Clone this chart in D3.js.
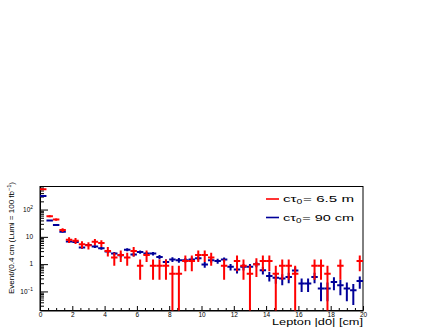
<!DOCTYPE html>
<html>
<head>
<meta charset="utf-8">
<script src="https://cdn.jsdelivr.net/npm/d3@7"></script>
<style>
  body { margin: 0; background: #fff; }
  svg { display: block; }
  text { font-family: "Liberation Sans", Arial, sans-serif; fill: #000; }
</style>
</head>
<body>
<div id="chart-area"></div>
<script>
// bins of 0.4 cm in lepton |d0|
const binCenters = [0.2, 0.6, 1.0, 1.4, 1.8, 2.2, 2.6, 3.0, 3.4, 3.8,
    4.2, 4.6, 5.0, 5.4, 5.8, 6.2, 6.6, 7.0, 7.4, 7.8,
    8.2, 8.6, 9.0, 9.4, 9.8, 10.2, 10.6, 11.0, 11.4, 11.8,
    12.2, 12.6, 13.0, 13.4, 13.8, 14.2, 14.6, 15.0, 15.4, 15.8,
    16.2, 16.6, 17.0, 17.4, 17.8, 18.2, 18.6, 19.0, 19.4, 19.8]
const binHalf = 0.2

// ctau = 6.5 m (red)
const redVals = [550, 57, 43, 18, 7.8, 7.2, 5.3, 4.9, 6.6, 5.9,
    3.05, 1.74, 2.18, 1.74, 3.05, 0.87, 2.18, 0.87, 0.87, 0.87,
    0.44, 0.44, 1.31, 1.31, 2.18, 2.18, 1.74, 0, 0.87, 0,
    1.31, 0.87, 0.44, 1.0, 1.31, 1.31, 0.44, 0.87, 0.87, 0.44,
    0, 0, 0.87, 0.87, 0.44, 0, 0.87, 0, 0, 1.31]
const redErr = [15.6, 5.0, 4.35, 2.8, 1.85, 1.78, 1.53, 1.47, 1.7, 1.61,
    1.16, 0.87, 0.98, 0.87, 1.16, 0.6, 0.98, 0.6, 0.6, 0.6,
    0.44, 0.44, 0.76, 0.76, 0.98, 0.98, 0.87, 0, 0.6, 0,
    0.76, 0.6, 0.44, 0.66, 0.76, 0.76, 0.44, 0.6, 0.6, 0.44,
    0, 0, 0.6, 0.6, 0.44, 0, 0.6, 0, 0, 0.76]

// ctau = 90 cm (blue)
const blueVals = [316, 40, 27, 15.5, 6.8, 6.5, 4.1, 5.0, 4.4, 3.8,
    2.9, 2.43, 2.1, 3.4, 2.24, 2.78, 2.43, 2.43, 1.84, 1.21,
    1.48, 1.4, 1.4, 1.48, 1.65, 0.97, 1.4, 1.3, 1.47, 0.8,
    0.64, 0.8, 0.8, 1.0, 0.6, 0.37, 0.32, 0.3, 0.34, 0.59,
    0.195, 0.195, 0.34, 0.128, 0.128, 0.22, 0.17, 0.128, 0.11, 0.24]
const blueErr = [4.2, 1.48, 1.22, 0.92, 0.61, 0.6, 0.47, 0.52, 0.49, 0.46,
    0.4, 0.37, 0.34, 0.43, 0.35, 0.39, 0.37, 0.37, 0.32, 0.26,
    0.29, 0.28, 0.28, 0.29, 0.3, 0.23, 0.28, 0.27, 0.28, 0.21,
    0.19, 0.21, 0.21, 0.23, 0.18, 0.14, 0.13, 0.13, 0.14, 0.18,
    0.1, 0.1, 0.14, 0.084, 0.084, 0.11, 0.097, 0.084, 0.078, 0.115]

const xTicks = [0, 2, 4, 6, 8, 10, 12, 14, 16, 18, 20]
const yTicks = [0.1, 1, 10, 100]
const yTickLabels = [["10", "\u22121"], ["1", ""], ["10", ""], ["10", "2"]]

const WIDTH = 436
const HEIGHT = 327
const FRAME = { LEFT: 40, RIGHT: 363, TOP: 186.5, BOTTOM: 310.5 }

const svg = d3.select("#chart-area")
    .append("svg")
    .attr("width", WIDTH)
    .attr("height", HEIGHT)

const x = d3.scaleLinear()
    .domain([0, 20])
    .range([FRAME.LEFT, FRAME.RIGHT])

const y = d3.scaleLog()
    .domain([0.02, 700])
    .range([FRAME.BOTTOM, FRAME.TOP])

svg.append("clipPath").attr("id", "frame-clip")
    .append("rect")
    .attr("x", FRAME.LEFT)
    .attr("y", FRAME.TOP)
    .attr("width", FRAME.RIGHT - FRAME.LEFT)
    .attr("height", FRAME.BOTTOM - FRAME.TOP)

// x axis, ticks pointing into the frame
const xAxis = svg.append("g")
    .attr("transform", `translate(0, ${FRAME.BOTTOM})`)
    .call(d3.axisBottom(x).tickValues(xTicks).tickSize(-4.5).tickPadding(1.4).tickSizeOuter(0))
xAxis.select(".domain").attr("stroke", "#000")
xAxis.selectAll("text").style("font-size", "6.5px")

svg.append("g")
    .attr("transform", `translate(0, ${FRAME.BOTTOM})`)
    .call(d3.axisBottom(x).tickValues(x.ticks(40).filter(v => v % 2 !== 0)).tickSize(-2.5).tickFormat(""))
    .call(g => g.select(".domain").remove())

// y axis (log)
const yAxis = svg.append("g")
    .attr("transform", `translate(${FRAME.LEFT}, 0)`)
    .call(d3.axisLeft(y).tickValues(yTicks).tickSize(-8).tickFormat("").tickSizeOuter(0))
yAxis.select(".domain").attr("stroke", "#000")

const yMinor = y.ticks().filter(v => yTicks.indexOf(v) < 0 && v > 0.02)
svg.append("g")
    .attr("transform", `translate(${FRAME.LEFT}, 0)`)
    .call(d3.axisLeft(y).tickValues(yMinor).tickSize(-4).tickFormat(""))
    .call(g => g.select(".domain").remove())

const yLab = svg.append("g")
    .selectAll("text")
    .data(yTicks)
    .enter()
    .append("text")
    .attr("x", 33)
    .attr("y", d => y(d) + 2.3)
    .attr("text-anchor", "end")
    .style("font-size", "6.5px")
yLab.append("tspan").text((d, i) => yTickLabels[i][0])
yLab.append("tspan")
    .attr("dy", -2.7)
    .style("font-size", "4.8px")
    .text((d, i) => yTickLabels[i][1])

// frame
svg.append("rect")
    .attr("x", FRAME.LEFT)
    .attr("y", FRAME.TOP)
    .attr("width", FRAME.RIGHT - FRAME.LEFT)
    .attr("height", FRAME.BOTTOM - FRAME.TOP)
    .attr("fill", "none")
    .attr("stroke", "#000")
    .attr("stroke-width", 1)

// axis titles
svg.append("text")
    .attr("x", FRAME.RIGHT)
    .attr("y", 325)
    .attr("text-anchor", "end")
    .attr("textLength", 91)
    .attr("lengthAdjust", "spacingAndGlyphs")
    .style("font-size", "8.5px")
    .text("Lepton |d0| [cm]")

const yTitle = svg.append("text")
    .attr("transform", "translate(13.5, 182) rotate(-90)")
    .attr("text-anchor", "end")
    .attr("textLength", 112)
    .attr("lengthAdjust", "spacingAndGlyphs")
    .style("font-size", "8px")
yTitle.append("tspan").text("Event/(0.4 cm (Lumi = 100 fb")
yTitle.append("tspan").attr("dy", -2.7).style("font-size", "5.5px").text("\u22121")
yTitle.append("tspan").attr("dy", 2.7).text(")")

// histograms with error bars
function drawSeries(vals, errs, color) {
    const pts = binCenters.map((c, i) => ({ c: c, v: vals[i], e: errs[i] }))
        .filter(d => d.v > 0)
    const g = svg.append("g")
        .attr("clip-path", "url(#frame-clip)")
        .attr("stroke", color)
        .attr("stroke-width", 2)
    g.selectAll("line.h").data(pts).enter()
        .append("line").attr("class", "h")
        .attr("x1", d => x(d.c - binHalf))
        .attr("x2", d => x(d.c + binHalf))
        .attr("y1", d => y(d.v))
        .attr("y2", d => y(d.v))
    g.selectAll("line.v").data(pts).enter()
        .append("line").attr("class", "v")
        .attr("x1", d => x(d.c))
        .attr("x2", d => x(d.c))
        .attr("y1", d => d.v - d.e > 0.02 ? y(d.v - d.e) : FRAME.BOTTOM + 2)
        .attr("y2", d => y(d.v + d.e))
}

drawSeries(blueVals, blueErr, "#000099")
drawSeries(redVals, redErr, "#ff0000")

// legend
const legendItems = [
    { color: "#ff0000", sub: "0", val: "= 6.5 m" },
    { color: "#000099", sub: "0", val: "= 90 cm" }
]
const leg = svg.append("g")
legendItems.forEach((d, i) => {
    const ly = 199 + i * 18.5
    leg.append("line")
        .attr("x1", 266).attr("x2", 279)
        .attr("y1", ly).attr("y2", ly)
        .attr("stroke", d.color)
        .attr("stroke-width", 1.6)
    const t = leg.append("text")
        .attr("x", 283)
        .attr("y", ly + 3.2)
        .attr("textLength", 71)
        .attr("lengthAdjust", "spacingAndGlyphs")
        .style("font-size", "9.5px")
    t.append("tspan").text("c\u03c4")
    t.append("tspan").attr("dy", 1.8).style("font-size", "6.5px").text(d.sub)
    t.append("tspan").attr("dy", -1.8).attr("dx", 0.5).text(d.val)
})
</script>
</body>
</html>
